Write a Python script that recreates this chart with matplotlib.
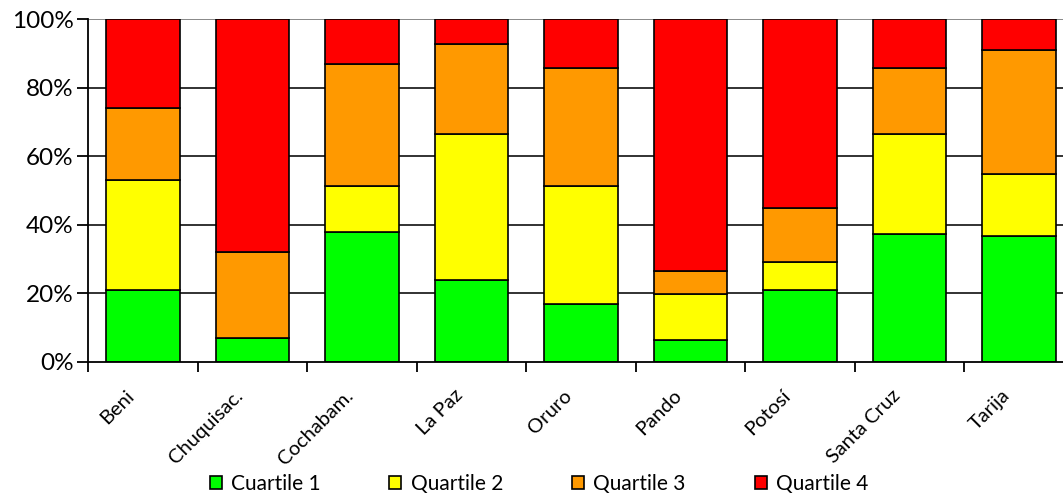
import matplotlib
matplotlib.use("Agg")
import matplotlib.pyplot as plt
from matplotlib.patches import Patch
from matplotlib.transforms import ScaledTranslation
import numpy as np

departments = ["Beni", "Chuquisac.", "Cochabam.", "La Paz", "Oruro",
               "Pando", "Potosí", "Santa Cruz", "Tarija"]
series_names = ["Cuartile 1", "Quartile 2", "Quartile 3", "Quartile 4"]

# share of each quartile per department (%)
q1 = [20.8, 6.8, 37.8, 23.8, 16.8, 6.3, 20.8, 37.2, 36.6]
q2 = [32.1, 0.0, 13.6, 42.6, 34.5, 13.4, 8.2, 29.2, 18.1]
q3 = [21.0, 25.1, 35.4, 26.2, 34.3, 6.9, 15.8, 19.2, 36.2]
q4 = [26.1, 68.1, 13.2, 7.4, 14.4, 73.4, 55.2, 14.4, 9.1]

colors = ["#00FF00", "#FFFF00", "#FF9900", "#FF0000"]
y_ticks = [0, 20, 40, 60, 80, 100]
y_labels = ["0%", "20%", "40%", "60%", "80%", "100%"]

plt.rcParams["font.family"] = ["Lato", "DejaVu Sans"]

fig = plt.figure(figsize=(10.63, 4.93), dpi=100)
ax = fig.add_axes([88.3 / 1063, 131.3 / 493, 985.5 / 1063, 342.7 / 493])

x = np.arange(len(departments))
bottom = np.zeros(len(departments))
for vals, col in zip([q1, q2, q3, q4], colors):
    v = np.array(vals)
    ax.bar(x, v, bottom=bottom, width=0.672, color=col,
           edgecolor="black", linewidth=1.2, zorder=3)
    bottom += v

# horizontal gridlines behind the bars
for t in y_ticks[1:]:
    ax.axhline(t, color="#7f7f7f" if t == 100 else "#222222",
               linewidth=1.3, zorder=1)

ax.set_xlim(-0.5, len(departments) - 0.5)
ax.set_ylim(0, 100)

for side in ["top", "right"]:
    ax.spines[side].set_visible(False)
for side in ["left", "bottom"]:
    ax.spines[side].set_color("black")
    ax.spines[side].set_linewidth(1.3)
    ax.spines[side].set_zorder(4)

ax.set_yticks(y_ticks)
ax.set_yticklabels(y_labels, fontsize=17.5)
ax.tick_params(axis="y", direction="out", length=8, width=1.3, pad=2.5)

ax.set_xticks(x)
ax.set_xticklabels(departments, rotation=45, ha="right",
                   rotation_mode="anchor", fontsize=14.5)
ax.tick_params(axis="x", which="major", length=0, pad=18)
shift = ScaledTranslation(-18 / 100, 0, fig.dpi_scale_trans)
for lab in ax.get_xticklabels():
    lab.set_transform(lab.get_transform() + shift)
ax.set_xticks(np.arange(-0.5, len(departments) + 0.5, 1.0), minor=True)
ax.tick_params(axis="x", which="minor", direction="out", length=7, width=1.3)

handles = [Patch(facecolor=c, edgecolor="black", linewidth=1.2) for c in colors]
fig.legend(handles, series_names, loc="center", bbox_to_anchor=(539 / 1063, 0.018),
           ncol=4, frameon=False, fontsize=15, handlelength=0.58, handleheight=0.58,
           handletextpad=0.45, columnspacing=3.3, borderaxespad=0)

fig.savefig("out.png", dpi=100)
